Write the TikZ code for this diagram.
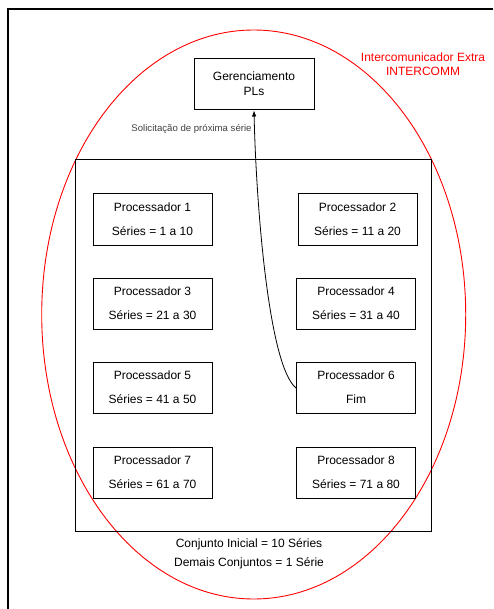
\documentclass[tikz,border=0pt]{standalone}
\usepackage{fontspec}
\setmainfont{Liberation Sans}
\usetikzlibrary{arrows.meta,shapes.geometric}
\begin{document}
\begin{tikzpicture}[x=1pt,y=-1pt,
  procbox/.style={draw=black,line width=1pt,minimum width=119pt,minimum height=51pt,inner sep=0pt},
  txt/.style={font=\fontsize{12}{14}\selectfont,inner sep=0pt}]
\useasboundingbox (0,0) rectangle (493,609);
% outer frame (left and top edges)
\draw[line width=2.6pt] (8,609) -- (8,9) -- (493,9);
% red ellipse
\node[draw=red,line width=0.9pt,ellipse,minimum width=424pt,minimum height=569pt,inner sep=0pt] (ell) at (253.7,314.5) {};
% inner rectangle
\node[draw=black,line width=1pt,minimum width=356pt,minimum height=372pt,inner sep=0pt] (set) at (253.3,345.8) {};
% manager box
\node[draw=black,line width=1pt,minimum width=120pt,minimum height=51pt,inner sep=0pt] (ger) at (254,84.5) {};
\node[txt] (gerA) at (254,76) {Gerenciamento};
\node[txt] (gerB) at (254,91) {PLs};
% red label
\node[txt,text=red] (icA) at (423,57) {Intercomunicador Extra};
\node[txt,text=red] (icB) at (423,71) {INTERCOMM};
% request label
\node[font=\fontsize{9.6}{11}\selectfont,text=black!75,inner sep=0pt] (req) at (191.5,129) {Solicitação de próxima série};
% processors
\node[procbox] (p1) at (152.5,219.5) {};
\node[txt] at (152.5,207) {Processador 1};
\node[txt] at (152.5,231) {Séries = 1 a 10};
\node[procbox] (p2) at (357.5,219.5) {};
\node[txt] at (357.5,207) {Processador 2};
\node[txt] at (357.5,231) {Séries = 11 a 20};
\node[procbox] (p3) at (152.5,303.5) {};
\node[txt] at (152.5,291) {Processador 3};
\node[txt] at (152.5,315) {Séries = 21 a 30};
\node[procbox] (p4) at (356,303.5) {};
\node[txt] at (356,291) {Processador 4};
\node[txt] at (356,315) {Séries = 31 a 40};
\node[procbox] (p5) at (152.5,388) {};
\node[txt] at (152.5,375.5) {Processador 5};
\node[txt] at (152.5,399.5) {Séries = 41 a 50};
\node[procbox] (p6) at (356,388) {};
\node[txt] at (356,375.5) {Processador 6};
\node[txt] at (356,399.5) {Fim};
\node[procbox] (p7) at (152.5,472.5) {};
\node[txt] at (152.5,460) {Processador 7};
\node[txt] at (152.5,484) {Séries = 61 a 70};
\node[procbox] (p8) at (356,472.5) {};
\node[txt] at (356,460) {Processador 8};
\node[txt] at (356,484) {Séries = 71 a 80};
% bottom texts
\node[txt] (c1) at (249,544) {Conjunto Inicial = 10 Séries};
\node[txt] (c2) at (249,563) {Demais Conjuntos = 1 Série};
% request arrow
\draw[line width=0.8pt,-{Latex[length=6pt,width=4.5pt]}] (p6.west) .. controls (268,365) and (256,200) .. (ger.south);
\end{tikzpicture}
\end{document}
